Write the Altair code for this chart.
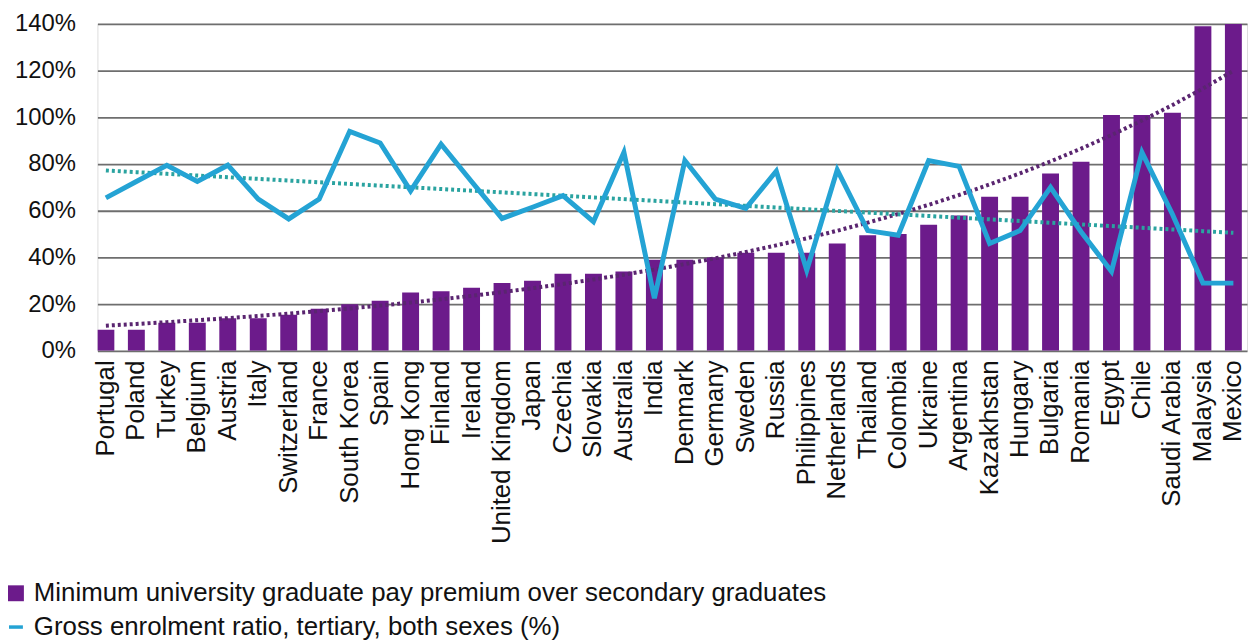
import altair as alt
import pandas as pd
import numpy as np

countries = ["Portugal", "Poland", "Turkey", "Belgium", "Austria", "Italy", "Switzerland",
             "France", "South Korea", "Spain", "Hong Kong", "Finland", "Ireland",
             "United Kingdom", "Japan", "Czechia", "Slovakia", "Australia", "India",
             "Denmark", "Germany", "Sweden", "Russia", "Philippines", "Netherlands",
             "Thailand", "Colombia", "Ukraine", "Argentina", "Kazakhstan", "Hungary",
             "Bulgaria", "Romania", "Egypt", "Chile", "Saudi Arabia", "Malaysia", "Mexico"]

pay_premium = [9, 9, 12, 12, 14, 14, 15.5, 18, 20, 21.5, 25, 25.5, 27, 29, 30, 33, 33, 34,
               39, 39, 40, 42, 42, 42, 46, 49.5, 50, 54, 58, 66, 66, 76, 81, 101, 101, 102,
               139, 140]

enrolment = [65.5, 72.5, 79.5, 72.5, 79.5, 65, 56.5, 65, 94, 89, 68.5, 88.5, 72.5, 56.7,
             61.5, 66.5, 55.3, 85, 22.5, 81.5, 65, 61, 77, 34.5, 77.5, 51.5, 49.5, 81.5,
             79, 46, 51.5, 70, 51, 34, 85, 58.5, 29, 29]

series_names = ["Minimum university graduate pay premium over secondary graduates",
                "Gross enrolment ratio, tertiary, both sexes (%)"]

PURPLE = "#6c1b8b"
CYAN = "#24a3d4"
TREND_PURPLE = "#5a2570"
TREND_TEAL = "#2aa3a0"
FONT = "Liberation Sans"

idx = np.arange(len(countries))
# Excel-style trendlines: exponential for pay premium, linear for enrolment
b_exp, a_exp = np.polyfit(idx, np.log(pay_premium), 1)
trend_pay = np.exp(a_exp + b_exp * idx)
b_lin, a_lin = np.polyfit(idx, enrolment, 1)
trend_enr = a_lin + b_lin * idx

df = pd.DataFrame({
    "country": countries,
    "premium": pay_premium,
    "enrol": enrolment,
    "trend_pay": trend_pay,
    "trend_enr": trend_enr,
    "s_bar": series_names[0],
    "s_line": series_names[1],
})

xenc = alt.X("country:N", sort=countries, title=None,
             scale=alt.Scale(paddingInner=0.445, paddingOuter=0.085, align=0),
             axis=alt.Axis(labelAngle=270, labelFontSize=26, labelFont=FONT,
                           labelColor="#111111", labelPadding=9, ticks=False,
                           domain=False, labelLimit=0))

yscale = alt.Scale(domain=[0, 140], nice=False)
yaxis = alt.Axis(values=[0, 20, 40, 60, 80, 100, 120, 140], labelExpr="datum.value + '%'",
                 labelFontSize=24, labelFont=FONT, labelColor="#111111", labelPadding=22,
                 ticks=False, domain=False, grid=True, gridColor="#6e6e6e", gridWidth=1.8)

bar_legend = alt.Legend(
    orient="none", legendX=-95, legendY=560, title=None, padding=0,
    labelFontSize=26, labelFont=FONT, labelColor="#111111", labelLimit=0,
    labelOffset=5, symbolSize=256, symbolType="square", symbolStrokeWidth=0)

line_legend = alt.Legend(
    orient="none", legendX=-95, legendY=594, title=None, padding=0,
    labelFontSize=26, labelFont=FONT, labelColor="#111111", labelLimit=0,
    labelOffset=5, symbolSize=196, symbolType="stroke", symbolStrokeWidth=3.5)

bars = alt.Chart(df).mark_bar(clip=True).encode(
    x=xenc,
    y=alt.Y("premium:Q", scale=yscale, axis=yaxis, title=None),
    fill=alt.Fill("s_bar:N", scale=alt.Scale(domain=[series_names[0]], range=[PURPLE]),
                  legend=bar_legend),
)

trend1 = alt.Chart(df).mark_line(strokeDash=[3, 3], strokeWidth=4, color=TREND_PURPLE).encode(
    x=alt.X("country:N", sort=countries),
    y=alt.Y("trend_pay:Q", scale=yscale),
)

trend2 = alt.Chart(df).mark_line(strokeDash=[3, 3], strokeWidth=4, color=TREND_TEAL).encode(
    x=alt.X("country:N", sort=countries),
    y=alt.Y("trend_enr:Q", scale=yscale),
)

line = alt.Chart(df).mark_line(strokeWidth=5, strokeJoin="miter").encode(
    x=alt.X("country:N", sort=countries),
    y=alt.Y("enrol:Q", scale=yscale),
    stroke=alt.Stroke("s_line:N", scale=alt.Scale(domain=[series_names[1]], range=[CYAN]),
                      legend=line_legend),
)

chart = alt.layer(bars, trend1, trend2, line).properties(
    width=1157, height=329,
    autosize=alt.AutoSizeParams(type="none"),
    padding={"left": 90, "top": 14, "right": 3, "bottom": 292},
).configure_view(stroke=None).configure(background="white")

chart.save("out.html", embed_options={"renderer": "svg", "actions": False})
